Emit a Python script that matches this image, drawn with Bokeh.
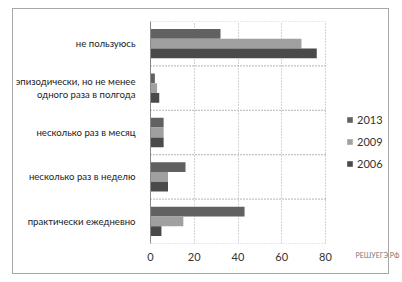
from bokeh.plotting import figure
from bokeh.models import (FactorRange, Range1d, FixedTicker, Legend, LegendItem,
                          ColumnDataSource, InlineStyleSheet, Title)
from bokeh.transform import dodge
from bokeh.embed import file_html
from bokeh.resources import INLINE

# categories listed top to bottom as in the chart
categories = [
    "не пользуюсь",
    "эпизодически, но не менее\nодного раза в полгода",
    "несколько раз в месяц",
    "несколько раз в неделю",
    "практически ежедневно",
]
years = ["2013", "2009", "2006"]
v2013 = [32, 2, 6, 16, 43]
v2009 = [69, 3, 6, 8, 15]
v2006 = [76, 4, 6, 8, 5]
x_ticks = [0, 20, 40, 60, 80]
watermark = "РЕШУЕГЭ.РФ"
colors = ["#616161", "#a0a0a0", "#4a4a4a"]

source = ColumnDataSource(dict(cat=categories, y2013=v2013, y2009=v2009, y2006=v2006))

box_css = InlineStyleSheet(css="""
:host { position: relative; }
:host::after {
  content: "";
  position: absolute;
  left: 12px; top: 8px; width: 375px; height: 264px;
  border: 1px solid #a8a8a8;
  pointer-events: none;
}
""")

# frame runs to the right edge so the legend can sit inside it;
# the value axis itself only spans 0..80 (frame left 150 -> value 80 at x=325)
p = figure(width=402, height=282, output_backend="svg", toolbar_location=None,
           y_range=FactorRange(factors=categories[::-1]),
           x_range=Range1d(0, 115.2),
           min_border_left=150, min_border_right=0,
           min_border_top=21, min_border_bottom=39,
           stylesheets=[box_css])
p.outline_line_color = None
p.background_fill_color = "white"
p.border_fill_color = "white"

font = "Lato"
renderers = []
for yr, off, col in zip(years, [0.22, 0.0, -0.22], colors):
    r = p.hbar(y=dodge("cat", off, range=p.y_range), left=0, right="y" + yr,
               height=0.22, source=source, fill_color=col, line_color=None)
    renderers.append(r)

# category separators (dotted), limited to the value axis span
for off in (0.5, -0.5):
    p.segment(x0=x_ticks[0], x1=x_ticks[-1],
              y0=dodge("cat", off, range=p.y_range), y1=dodge("cat", off, range=p.y_range),
              source=source, line_color="#a8a8a8", line_dash="1 2", line_width=1,
              level="underlay")

# grids
p.xgrid.ticker = FixedTicker(ticks=x_ticks)
p.xgrid.grid_line_color = "#a8a8a8"
p.xgrid.grid_line_dash = "1 2"
p.ygrid.visible = False

# axes
p.xaxis.ticker = FixedTicker(ticks=x_ticks)
p.xaxis.axis_line_color = None
p.xaxis.major_tick_line_color = None
p.xaxis.minor_tick_line_color = None
p.xaxis.major_label_standoff = 3
p.xaxis.major_label_text_font = font
p.xaxis.major_label_text_font_size = "11px"
p.xaxis.major_label_text_color = "#333333"

p.yaxis.axis_line_color = "#8a8a8a"
p.yaxis.major_tick_line_color = None
p.yaxis.major_label_standoff = 9
p.yaxis.major_label_text_font = font
p.yaxis.major_label_text_font_size = "9.6px"
p.yaxis.major_label_text_color = "#222222"

legend = Legend(items=[LegendItem(label=yr, renderers=[r]) for yr, r in zip(years, renderers)],
                location=(196, 69), padding=0, margin=0, spacing=0,
                glyph_width=7, glyph_height=7, label_height=22, label_standoff=4,
                label_text_font=font, label_text_font_size="11px",
                label_text_color="#333333", border_line_color=None,
                background_fill_alpha=0)
p.add_layout(legend)

wm = Title(text=watermark, align="left", offset=205, standoff=-26, vertical_align="top",
           text_font=font, text_font_size="7px", text_font_style="normal",
           text_color="#777777")
p.add_layout(wm, "below")

open("out.html", "w").write(file_html(p, INLINE))
